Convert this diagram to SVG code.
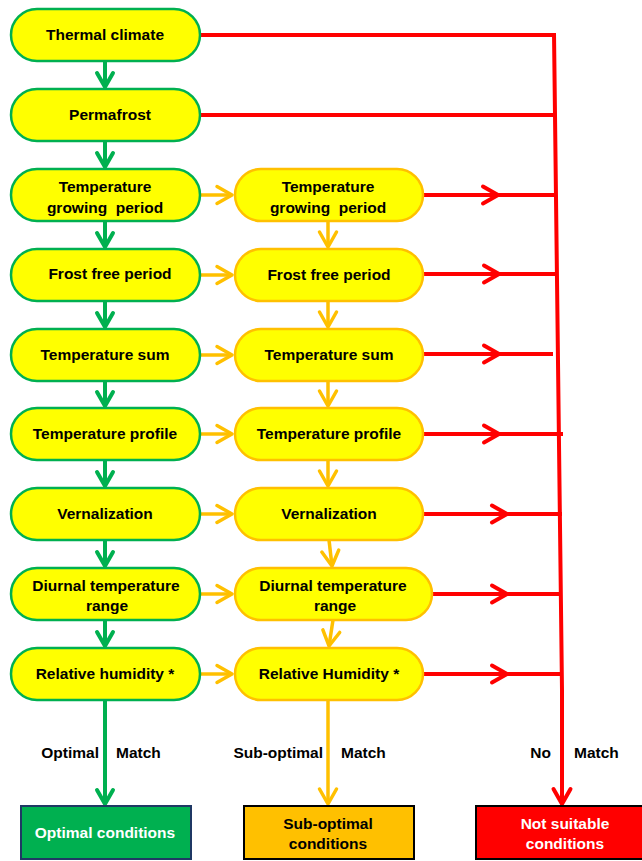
<svg xmlns="http://www.w3.org/2000/svg" width="642" height="861" viewBox="0 0 642 861">
<style>
text{font-family:"Liberation Sans",Arial,sans-serif;font-weight:bold;font-size:15.5px;fill:#000;text-anchor:middle;white-space:pre}
.ln{fill:#FFFF00;stroke:#00B050;stroke-width:2.5}
.mn{fill:#FFFF00;stroke:#FFC000;stroke-width:2.5}
.g{stroke:#00B050;stroke-width:4;fill:none}
.o{stroke:#FFC000;stroke-width:3.5;fill:none}
.r{stroke:#FF0000;stroke-width:4;fill:none}
.w{fill:#fff}
.l{text-anchor:end}
.s{text-anchor:start}
</style>
<defs>
<marker id="ag" markerUnits="userSpaceOnUse" viewBox="-18 -12 22 24" refX="0" refY="0" markerWidth="22" markerHeight="24" orient="auto"><path d="M-14,-8 L0,0 L-14,8" fill="none" stroke="#00B050" stroke-width="4" stroke-linecap="round" stroke-linejoin="round"/></marker>
<marker id="ao" markerUnits="userSpaceOnUse" viewBox="-18 -12 22 24" refX="0" refY="0" markerWidth="22" markerHeight="24" orient="auto"><path d="M-15,-8.5 L0,0 L-15,8.5" fill="none" stroke="#FFC000" stroke-width="3.5" stroke-linecap="round" stroke-linejoin="round"/></marker>
<marker id="ar" markerUnits="userSpaceOnUse" viewBox="-20 -12 24 24" refX="0" refY="0" markerWidth="24" markerHeight="24" orient="auto"><path d="M-15,-8.5 L0,0 L-15,8.5" fill="none" stroke="#FF0000" stroke-width="4" stroke-linecap="round" stroke-linejoin="round"/></marker>
</defs>

<g id="connectors">
<path class="g" marker-end="url(#ag)" d="M105,61 L105,87"/>
<path class="g" marker-end="url(#ag)" d="M105,141 L105,167"/>
<path class="g" marker-end="url(#ag)" d="M105,221 L105,247"/>
<path class="g" marker-end="url(#ag)" d="M105,301 L105,327"/>
<path class="g" marker-end="url(#ag)" d="M105,381 L105,406"/>
<path class="g" marker-end="url(#ag)" d="M105,460 L105,486"/>
<path class="g" marker-end="url(#ag)" d="M105,540 L105,566"/>
<path class="g" marker-end="url(#ag)" d="M105,620 L105,646"/>
<path class="g" marker-end="url(#ag)" d="M105,700 L105,804"/>
<path class="o" marker-end="url(#ao)" d="M200,195 L232,195"/>
<path class="o" marker-end="url(#ao)" d="M200,275 L232,275"/>
<path class="o" marker-end="url(#ao)" d="M200,355 L232,355"/>
<path class="o" marker-end="url(#ao)" d="M200,434 L232,434"/>
<path class="o" marker-end="url(#ao)" d="M200,514 L232,514"/>
<path class="o" marker-end="url(#ao)" d="M200,594 L232,594"/>
<path class="o" marker-end="url(#ao)" d="M200,674 L232,674"/>
<path class="o" marker-end="url(#ao)" d="M328,221 L328,247"/>
<path class="o" marker-end="url(#ao)" d="M328,301 L328,327"/>
<path class="o" marker-end="url(#ao)" d="M328,381 L328,406"/>
<path class="o" marker-end="url(#ao)" d="M328,460 L328,486"/>
<path class="o" marker-end="url(#ao)" d="M329,540 L332,566"/>
<path class="o" marker-end="url(#ao)" d="M333,620 L329,646"/>
<path class="o" marker-end="url(#ao)" d="M328,700 L328,804"/>
<path class="r" d="M200,35 L555,35"/>
<path class="r" d="M200,115 L555,115"/>
<path class="r" marker-mid="url(#ar)" d="M423,195 L498,195 L556,195"/>
<path class="r" marker-mid="url(#ar)" d="M423,274 L499,274 L557,274"/>
<path class="r" marker-mid="url(#ar)" d="M423,354 L499,354 L553,354"/>
<path class="r" marker-mid="url(#ar)" d="M423,434 L499,434 L563,434"/>
<path class="r" marker-mid="url(#ar)" d="M423,514 L507,514 L562,514"/>
<path class="r" marker-mid="url(#ar)" d="M432,594 L507,594 L562,594"/>
<path class="r" marker-mid="url(#ar)" d="M423,674 L507,674 L562,674"/>
<path class="r" marker-end="url(#ar)" d="M554,33 L562,690 L562,804"/>
</g>

<g id="n-thermal"><rect class="ln" x="11" y="9" width="189" height="52" rx="26"/><text x="105" y="40">Thermal climate</text></g>
<g id="n-permafrost"><rect class="ln" x="11" y="89" width="189" height="52" rx="26"/><text x="110" y="120">Permafrost</text></g>
<g id="n-tgp-opt"><rect class="ln" x="11" y="169" width="189" height="52" rx="26"/><text x="105" y="192">Temperature</text><text x="105" y="213">growing  period</text></g>
<g id="n-ffp-opt"><rect class="ln" x="11" y="249" width="189" height="52" rx="26"/><text x="110" y="279">Frost free period</text></g>
<g id="n-ts-opt"><rect class="ln" x="11" y="329" width="189" height="52" rx="26"/><text x="105" y="360">Temperature sum</text></g>
<g id="n-tp-opt"><rect class="ln" x="11" y="408" width="189" height="52" rx="26"/><text x="105" y="439">Temperature profile</text></g>
<g id="n-vern-opt"><rect class="ln" x="11" y="488" width="189" height="52" rx="26"/><text x="105" y="519">Vernalization</text></g>
<g id="n-dtr-opt"><rect class="ln" x="11" y="568" width="189" height="52" rx="26"/><text x="106" y="591">Diurnal temperature</text><text x="107" y="611">range</text></g>
<g id="n-rh-opt"><rect class="ln" x="11" y="648" width="189" height="52" rx="26"/><text x="105" y="679">Relative humidity *</text></g>

<g id="n-tgp-sub"><rect class="mn" x="235" y="169" width="188" height="52" rx="26"/><text x="328" y="192">Temperature</text><text x="328" y="213">growing  period</text></g>
<g id="n-ffp-sub"><rect class="mn" x="235" y="249" width="188" height="52" rx="26"/><text x="329" y="280">Frost free period</text></g>
<g id="n-ts-sub"><rect class="mn" x="235" y="329" width="188" height="52" rx="26"/><text x="329" y="360">Temperature sum</text></g>
<g id="n-tp-sub"><rect class="mn" x="235" y="408" width="188" height="52" rx="26"/><text x="329" y="439">Temperature profile</text></g>
<g id="n-vern-sub"><rect class="mn" x="235" y="488" width="188" height="52" rx="26"/><text x="329" y="519">Vernalization</text></g>
<g id="n-dtr-sub"><rect class="mn" x="235" y="568" width="197" height="52" rx="26"/><text x="333" y="591">Diurnal temperature</text><text x="335" y="611">range</text></g>
<g id="n-rh-sub"><rect class="mn" x="235" y="648" width="188" height="52" rx="26"/><text x="329" y="679">Relative Humidity *</text></g>

<g id="labels">
<text class="l" x="99" y="758">Optimal</text><text class="s" x="116" y="758">Match</text>
<text class="l" x="323" y="758">Sub-optimal</text><text class="s" x="341" y="758">Match</text>
<text class="l" x="551" y="758">No</text><text class="s" x="574" y="758">Match</text>
</g>

<g id="r-optimal"><rect x="21" y="806" width="170" height="53" fill="#00B050" stroke="#1F3864" stroke-width="2"/><text class="w" x="105" y="838">Optimal conditions</text></g>
<g id="r-sub"><rect x="244" y="806" width="170" height="53" fill="#FFC000" stroke="#000" stroke-width="2"/><text x="328" y="829">Sub-optimal</text><text x="328" y="849">conditions</text></g>
<g id="r-not"><rect x="476" y="806" width="170" height="53" fill="#FF0000" stroke="#000" stroke-width="2"/><text class="w" x="565" y="829">Not suitable</text><text class="w" x="565" y="849">conditions</text></g>
</svg>
